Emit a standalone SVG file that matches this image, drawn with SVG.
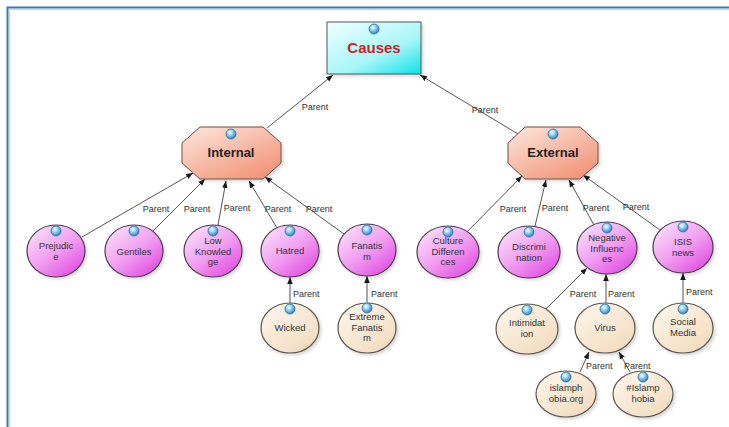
<svg xmlns="http://www.w3.org/2000/svg" width="729" height="427" viewBox="0 0 729 427">
<defs>
<linearGradient id="gMag" x1="0.15" y1="0.05" x2="0.9" y2="0.95">
<stop offset="0" stop-color="#fadcfa"/><stop offset="0.5" stop-color="#f29ef2"/><stop offset="1" stop-color="#e048e0"/>
</linearGradient>
<linearGradient id="gTan" x1="0.15" y1="0.05" x2="0.9" y2="0.95">
<stop offset="0" stop-color="#fdf5ea"/><stop offset="1" stop-color="#f3dbbd"/>
</linearGradient>
<linearGradient id="gOct" x1="0.1" y1="0" x2="0.9" y2="1">
<stop offset="0" stop-color="#fde4da"/><stop offset="1" stop-color="#f28f72"/>
</linearGradient>
<linearGradient id="gCyan" x1="0.1" y1="0" x2="0.95" y2="1">
<stop offset="0" stop-color="#ecffff"/><stop offset="0.6" stop-color="#a8f6f8"/><stop offset="1" stop-color="#12e4ea"/>
</linearGradient>
<radialGradient id="gIcon" cx="0.4" cy="0.35" r="0.65">
<stop offset="0" stop-color="#ffffff"/><stop offset="0.45" stop-color="#8fd0f4"/><stop offset="1" stop-color="#2a82c6"/>
</radialGradient>
<filter id="sh" x="-20%" y="-20%" width="150%" height="150%">
<feDropShadow dx="2" dy="2" stdDeviation="1.5" flood-color="#000" flood-opacity="0.15"/>
</filter>
<marker id="arr" viewBox="0 0 10 10" refX="10" refY="5" markerWidth="7" markerHeight="7" orient="auto" markerUnits="userSpaceOnUse">
<path d="M0,1 L10,5 L0,9 z" fill="#1a1a1a"/>
</marker>
<style>
.mag{fill:url(#gMag);stroke:#4a3c4a;stroke-width:1.2;filter:url(#sh)}
.tan{fill:url(#gTan);stroke:#5e5650;stroke-width:1.2;filter:url(#sh)}
.oct{fill:url(#gOct);stroke:#6a5048;stroke-width:1;filter:url(#sh)}
.box{fill:url(#gCyan);stroke:#555;stroke-width:1;filter:url(#sh)}
.ic{fill:url(#gIcon);stroke:#2f6f9f;stroke-width:0.8}
.t{font-family:"Liberation Sans",Arial,sans-serif;font-size:9.5px;fill:#333;text-anchor:middle}
.lb{font-family:"Liberation Sans",Arial,sans-serif;font-size:9px;fill:#333;text-anchor:middle}
.ls{text-anchor:start}
.hd{font-family:"Liberation Sans",Arial,sans-serif;font-size:13px;font-weight:bold;fill:#222;text-anchor:middle}
.cz{font-family:"Liberation Sans",Arial,sans-serif;font-size:15px;font-weight:bold;fill:#c0262a;text-anchor:middle}
.cn{fill:none;stroke:#555;stroke-width:1;marker-end:url(#arr)}
</style>
</defs>
<rect width="729" height="427" fill="#ffffff"/>
<path d="M7.5,427 V7.5 H729" fill="none" stroke="#3b7cab" stroke-width="2"/>
<path d="M9.5,427 V9.5 H729" fill="none" stroke="#b3d6ec" stroke-width="1"/>

<g id="connectors">
<line class="cn" x1="267" y1="128" x2="333" y2="75"/>
<line class="cn" x1="518" y1="134" x2="420" y2="75"/>
<line class="cn" x1="82" y1="237" x2="193" y2="173"/>
<line class="cn" x1="153" y1="231" x2="205" y2="179"/>
<line class="cn" x1="218" y1="225" x2="226" y2="181"/>
<line class="cn" x1="277" y1="228" x2="249" y2="181"/>
<line class="cn" x1="344" y1="234" x2="265" y2="177"/>
<line class="cn" x1="467" y1="232" x2="522" y2="176"/>
<line class="cn" x1="535" y1="226" x2="546" y2="180"/>
<line class="cn" x1="594" y1="225" x2="569" y2="180"/>
<line class="cn" x1="660" y1="230" x2="583" y2="175"/>
<line class="cn" x1="290" y1="303" x2="290" y2="277"/>
<line class="cn" x1="367" y1="302" x2="367" y2="276"/>
<line class="cn" x1="546" y1="309" x2="587" y2="268"/>
<line class="cn" x1="606" y1="303" x2="606" y2="274"/>
<line class="cn" x1="683" y1="303" x2="683" y2="273"/>
<line class="cn" x1="580" y1="372" x2="589" y2="352"/>
<line class="cn" x1="630" y1="372" x2="619" y2="352"/>
<text class="lb" x="315" y="110">Parent</text>
<text class="lb" x="485" y="113">Parent</text>
<text class="lb" x="156" y="212">Parent</text>
<text class="lb" x="197" y="212">Parent</text>
<text class="lb" x="237" y="211">Parent</text>
<text class="lb" x="278" y="212">Parent</text>
<text class="lb" x="319" y="212">Parent</text>
<text class="lb" x="513" y="212">Parent</text>
<text class="lb" x="555" y="211">Parent</text>
<text class="lb" x="596" y="211">Parent</text>
<text class="lb" x="636" y="210">Parent</text>
<text class="lb ls" x="293" y="297">Parent</text>
<text class="lb ls" x="371" y="297">Parent</text>
<text class="lb" x="583" y="297">Parent</text>
<text class="lb ls" x="608" y="297">Parent</text>
<text class="lb ls" x="686" y="295">Parent</text>
<text class="lb ls" x="586" y="369">Parent</text>
<text class="lb ls" x="624" y="369">Parent</text>
</g>

<g id="causes">
<rect class="box" x="327" y="22" width="94" height="52"/>
<circle class="ic" cx="374" cy="29" r="5"/>
<text class="cz" x="374" y="53">Causes</text>
</g>

<g id="internal">
<polygon class="oct" points="200,127 263,127 281,143 281,163 263,179 200,179 182,163 182,143"/>
<circle class="ic" cx="231" cy="134" r="5"/>
<text class="hd" x="231" y="157">Internal</text>
</g>

<g id="external">
<polygon class="oct" points="525,127 580,127 598,143 598,163 580,179 525,179 508,163 508,143"/>
<circle class="ic" cx="553" cy="134" r="5"/>
<text class="hd" x="553" y="157">External</text>
</g>

<g id="prejudice">
<ellipse class="mag" cx="56" cy="251" rx="29" ry="26"/>
<circle class="ic" cx="56" cy="231" r="5"/>
<text class="t" x="56" y="249">Prejudic</text>
<text class="t" x="56" y="259.5">e</text>
</g>

<g id="gentiles">
<ellipse class="mag" cx="134" cy="251" rx="29" ry="26"/>
<circle class="ic" cx="134" cy="231" r="5"/>
<text class="t" x="134" y="255">Gentiles</text>
</g>

<g id="low-knowledge">
<ellipse class="mag" cx="213" cy="251" rx="29" ry="26"/>
<circle class="ic" cx="213" cy="231" r="5"/>
<text class="t" x="213" y="244">Low</text>
<text class="t" x="213" y="254.5">Knowled</text>
<text class="t" x="213" y="265">ge</text>
</g>

<g id="hatred">
<ellipse class="mag" cx="290" cy="251" rx="29" ry="26"/>
<circle class="ic" cx="290" cy="231" r="5"/>
<text class="t" x="290" y="254">Hatred</text>
</g>

<g id="fanatism">
<ellipse class="mag" cx="367" cy="250" rx="29" ry="26"/>
<circle class="ic" cx="367" cy="230" r="5"/>
<text class="t" x="367" y="249">Fanatis</text>
<text class="t" x="367" y="259.5">m</text>
</g>

<g id="culture-differences">
<ellipse class="mag" cx="448" cy="252" rx="31" ry="26"/>
<circle class="ic" cx="448" cy="232" r="5"/>
<text class="t" x="448" y="244">Culture</text>
<text class="t" x="448" y="254.5">Differen</text>
<text class="t" x="448" y="265">ces</text>
</g>

<g id="discrimination">
<ellipse class="mag" cx="529" cy="252" rx="31" ry="26"/>
<circle class="ic" cx="529" cy="232" r="5"/>
<text class="t" x="529" y="250">Discrimi</text>
<text class="t" x="529" y="260.5">nation</text>
</g>

<g id="negative-influences">
<ellipse class="mag" cx="607" cy="248" rx="30" ry="26"/>
<circle class="ic" cx="607" cy="228" r="5"/>
<text class="t" x="607" y="241">Negative</text>
<text class="t" x="607" y="251.5">Influenc</text>
<text class="t" x="607" y="262">es</text>
</g>

<g id="isis-news">
<ellipse class="mag" cx="683" cy="247" rx="30" ry="26"/>
<circle class="ic" cx="683" cy="227" r="5"/>
<text class="t" x="683" y="245">ISIS</text>
<text class="t" x="683" y="255.5">news</text>
</g>

<g id="wicked">
<ellipse class="tan" cx="290" cy="328" rx="29" ry="25"/>
<circle class="ic" cx="290" cy="309" r="5"/>
<text class="t" x="290" y="331">Wicked</text>
</g>

<g id="extreme-fanatism">
<ellipse class="tan" cx="367" cy="328" rx="29" ry="25"/>
<circle class="ic" cx="367" cy="308" r="5"/>
<text class="t" x="367" y="320">Extreme</text>
<text class="t" x="367" y="330.5">Fanatis</text>
<text class="t" x="367" y="341">m</text>
</g>

<g id="intimidation">
<ellipse class="tan" cx="527" cy="329" rx="31" ry="25"/>
<circle class="ic" cx="527" cy="310" r="5"/>
<text class="t" x="527" y="326">Intimidat</text>
<text class="t" x="527" y="336.5">ion</text>
</g>

<g id="virus">
<ellipse class="tan" cx="605" cy="328" rx="30" ry="25"/>
<circle class="ic" cx="605" cy="309" r="5"/>
<text class="t" x="605" y="331">Virus</text>
</g>

<g id="social-media">
<ellipse class="tan" cx="683" cy="328" rx="30" ry="25"/>
<circle class="ic" cx="683" cy="309" r="5"/>
<text class="t" x="683" y="325">Social</text>
<text class="t" x="683" y="335.5">Media</text>
</g>

<g id="islamphobia-org">
<ellipse class="tan" cx="566" cy="394" rx="30" ry="23"/>
<circle class="ic" cx="566" cy="377" r="5"/>
<text class="t" x="566" y="391">islamph</text>
<text class="t" x="566" y="401.5">obia.org</text>
</g>

<g id="hash-islamphobia">
<ellipse class="tan" cx="643" cy="394" rx="30" ry="23"/>
<circle class="ic" cx="643" cy="377" r="5"/>
<text class="t" x="643" y="391">#Islamp</text>
<text class="t" x="643" y="401.5">hobia</text>
</g>
</svg>
